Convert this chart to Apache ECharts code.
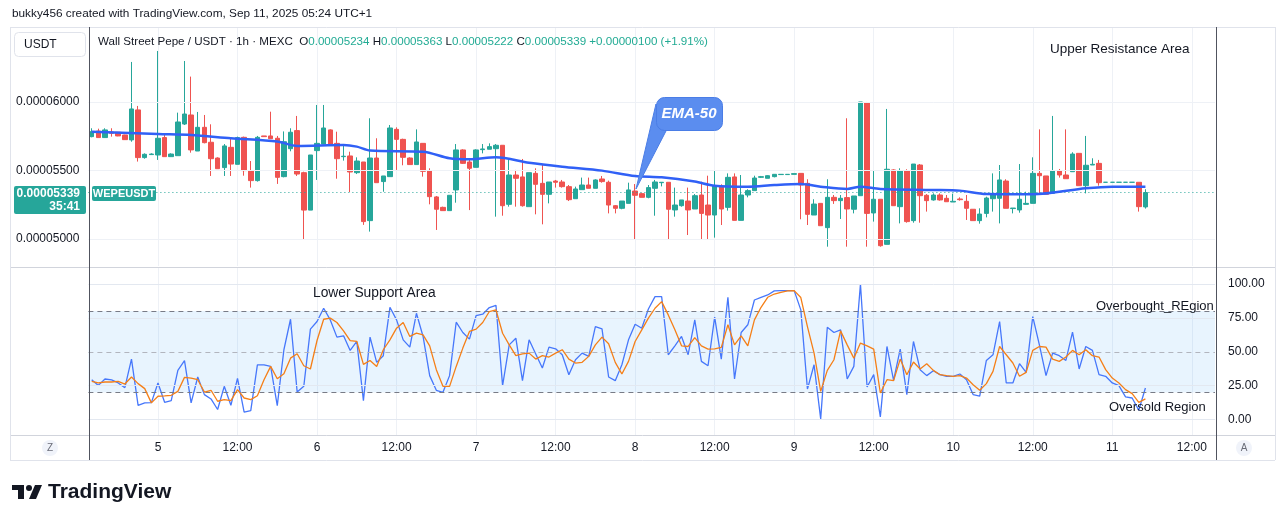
<!DOCTYPE html>
<html>
<head>
<meta charset="utf-8">
<script src="https://cdn.jsdelivr.net/npm/echarts@6/dist/echarts.min.js"></script>
<style>
html, body { margin: 0; padding: 0; background: #fff; }
#main { width: 1281px; height: 522px; }
</style>
</head>
<body>
<div id="main"></div>
<script>
// 1h candles, Sep 4 14:00 -> Sep 11 05:00. prices in 1e-8 USDT
var opens = [5747,5788,5740,5781,5779,5759,5723,5942,5594,5616,5613,5740,5601,5608,5839,5905,5642,5815,5706,5591,
  5521,5669,5545,5742,5496,5426,5752,5752,5735,5455,5659,5791,5484,5211,5645,5693,5796,5698,5601,5606,
  5484,5562,5134,5591,5419,5455,5800,5727,5591,5543,5698,5496,5307,5231,5207,5358,5650,5562,5523,5652,
  5655,5659,5684,5253,5467,5453,5236,5479,5406,5326,5423,5416,5382,5294,5360,5394,5370,5438,5414,5243,
  5224,5260,5350,5331,5304,5370,5411,5414,5212,5243,5277,5219,5321,5248,5175,5387,5231,5453,5136,5321,
  5353,5450,5443,5455,5470,5470,5472,5479,5406,5175,5260,5083,5304,5280,5302,5217,5316,5995,5190,5290,
  4961,5504,5236,5496,5134,5540,5319,5285,5321,5297,5270,5292,5275,5217,5134,5187,5294,5297,5423,5222,
  5212,5253,5260,5479,5460,5333,5496,5467,5491,5625,5389,5540,5552,5414,5414,5414,5414,5414,5414,5234];
var highs = [5808,5805,5808,5808,5781,5761,6292,5971,5625,5625,6372,5759,5625,5922,6299,6185,5927,5905,5837,5596,
  5693,5730,5747,5747,5569,5752,5752,5929,5752,5785,5808,5898,5491,5613,5978,5978,5800,5783,5679,5637,
  5596,5562,5881,5735,5460,5832,5815,5732,5596,5800,5698,5516,5314,5236,5319,5693,5655,5589,5655,5693,
  5698,5693,5684,5584,5504,5584,5484,5516,5540,5416,5431,5431,5394,5382,5448,5448,5436,5460,5426,5248,
  5277,5411,5401,5338,5394,5431,5414,5414,5375,5285,5375,5328,5418,5462,5496,5399,5479,5479,5467,5363,
  5462,5460,5465,5474,5472,5472,5477,5479,5436,5290,5260,5436,5321,5321,5881,5314,6000,6000,5496,5290,
  5949,5509,5516,5509,5547,5547,5328,5333,5333,5321,5331,5304,5321,5217,5224,5309,5479,5540,5436,5226,
  5547,5345,5596,5800,5460,5898,5511,5800,5633,5625,5752,5589,5577,5414,5414,5414,5414,5414,5414,5363];
var lows = [5742,5740,5738,5747,5750,5725,5710,5565,5586,5613,5577,5599,5599,5608,5832,5630,5642,5698,5460,5513,
  5460,5460,5545,5462,5375,5419,5747,5732,5402,5450,5640,5460,5000,5211,5431,5693,5691,5440,5572,5343,
  5474,5103,5054,5411,5345,5455,5504,5538,5543,5543,5455,5253,5066,5207,5207,5265,5548,5211,5523,5625,
  5655,5163,5170,5236,5236,5236,5236,5180,5107,5260,5375,5375,5277,5294,5360,5370,5370,5411,5187,5187,
  5217,5260,5000,5304,5297,5170,5384,5000,5163,5236,5029,5219,5000,5000,5010,5102,5207,5136,5136,5304,
  5353,5445,5443,5450,5470,5470,5472,5144,5102,5175,5097,4944,5256,5146,4944,5187,5316,4944,5127,4944,
  4961,5243,5114,5119,5119,5119,5200,5280,5280,5272,5270,5280,5139,5134,5112,5158,5200,5114,5224,5187,
  5192,5250,5260,5333,5326,5333,5448,5440,5491,5389,5333,5540,5389,5414,5414,5414,5414,5414,5200,5222];
var closes = [5783,5740,5796,5771,5752,5725,5949,5594,5618,5620,5735,5601,5620,5854,5912,5650,5815,5703,5586,5513,
  5679,5547,5740,5499,5426,5742,5747,5732,5450,5710,5779,5474,5211,5613,5698,5810,5691,5586,5604,5489,
  5569,5127,5591,5411,5460,5810,5727,5596,5543,5708,5494,5309,5217,5207,5319,5650,5552,5516,5650,5657,
  5674,5684,5243,5467,5443,5243,5484,5399,5326,5416,5414,5382,5287,5365,5394,5370,5431,5419,5248,5224,
  5277,5358,5319,5304,5375,5416,5414,5217,5248,5285,5212,5316,5187,5175,5387,5219,5450,5136,5321,5353,
  5445,5455,5462,5472,5472,5472,5477,5394,5180,5255,5097,5304,5280,5297,5219,5314,6000,5187,5290,4951,
  5509,5243,5496,5127,5547,5316,5280,5321,5285,5272,5275,5287,5224,5134,5182,5299,5328,5431,5224,5226,
  5290,5260,5479,5462,5326,5496,5467,5440,5620,5389,5538,5545,5411,5414,5414,5414,5414,5414,5236,5339];

// EMA-50 read at sampled candles
var emaIdx = [0,10,15,21,28,31,38,40,42,50,54,57,61,66,71,77,82,86,91,94,99,103,107,110,114,116,119,127,131,135,142,150,154,159];
var emaVal = [5783,5766,5759,5735,5711,5679,5686,5674,5645,5637,5589,5582,5596,5557,5528,5499,5460,5450,5419,5389,5382,5394,5401,5382,5365,5382,5365,5358,5353,5328,5326,5370,5382,5382];

// oscillator pane (blue line and its orange average)
var oscFast = [29.4,25.2,29.9,29.2,27.0,23.5,44.6,10.5,12.3,12.5,27.0,12.7,14.0,36.3,43.4,12.3,31.4,18.4,15.2,7.4,
  24.5,10.5,30.4,5.4,6.6,40.4,40.4,39.2,10.3,51.5,74.0,20.3,24.5,66.7,72.3,82.1,73.5,60.8,61.8,51.0,
  57.6,14.0,60.8,42.2,47.1,82.8,73.5,58.8,53.4,78.4,61.3,32.4,21.6,20.1,32.4,71.8,64.2,59.3,76.7,77.7,
  82.6,84.3,25.0,55.1,60.0,28.7,58.8,48.3,38.0,53.4,52.2,47.8,33.1,44.1,49.0,46.6,68.6,66.9,31.4,28.7,
  40.4,58.8,70.3,67.4,81.6,90.7,90.7,47.8,54.4,61.3,47.8,73.5,42.9,39.7,75.5,44.6,90.2,29.9,64.2,69.9,
  88.2,90.2,91.9,94.9,95.1,95.1,95.1,80.9,22.5,40.4,0.5,68.1,64.2,66.2,29.9,39.2,100,24.0,33.1,2.0,
  53.9,28.9,52.0,18.4,57.6,36.8,32.4,36.0,33.1,31.9,31.9,33.6,29.4,18.4,17.2,43.6,47.8,72.3,27.0,27.0,
  41.2,34.8,76.0,55.1,32.4,49.0,47.1,43.6,64.5,37.3,53.9,51.0,33.1,31.9,27.0,25.0,16.7,15.9,6.9,23.3];
var oscSlow = [28.2,27.0,27.7,27.7,28.2,26.2,31.4,26.5,22.8,12.3,17.2,17.4,17.9,20.8,31.1,30.6,29.4,20.3,21.6,13.5,
  14.7,14.0,22.1,15.9,14.7,17.6,29.4,39.2,30.1,33.8,45.3,48.5,39.7,37.3,58.3,74.0,74.8,71.6,65.4,58.3,
  57.6,40.7,43.6,39.2,51.5,58.8,67.4,71.6,61.3,63.7,62.5,54.4,36.8,24.5,24.5,39.2,52.7,65.0,66.7,71.6,
  79.7,80.9,63.7,55.1,47.1,48.5,49.0,44.6,47.1,46.1,49.0,51.5,44.6,41.7,42.2,46.6,55.1,60.8,55.9,42.2,
  33.6,42.9,57.6,66.2,74.8,82.1,87.0,77.2,66.2,54.4,53.9,60.5,54.4,52.0,52.2,53.2,69.9,55.1,61.8,54.4,
  73.5,82.8,90.2,92.6,93.9,94.9,95.1,90.0,68.6,49.0,20.8,36.3,44.1,65.4,55.1,45.3,56.4,54.4,52.0,19.6,
  29.4,28.7,44.6,33.1,42.4,37.3,41.2,36.3,33.1,32.4,31.9,32.4,30.6,25.7,21.6,26.5,35.5,53.9,47.8,41.7,
  31.9,34.8,51.0,53.9,53.4,44.6,42.9,46.1,51.0,47.8,51.5,47.1,46.1,36.8,30.6,27.0,22.1,19.1,12.7,15.2];

var priceTicks = [5000, 5500, 6000];
var oscTicks = [0, 25, 50, 75, 100];
var oscBands = [20, 50, 80];

// hourly categories, axis runs a bit past the last candle
var categories = [];
var t0 = Date.UTC(2025, 8, 4, 14);
for (var i = 0; i < 170; i++) {
  var d = new Date(t0 + i * 3600000);
  var dd = ('0' + d.getUTCDate()).slice(-2);
  var hh = ('0' + d.getUTCHours()).slice(-2);
  categories.push('2025-09-' + dd + ' ' + hh + ':00');
}
function isTick(idx) {
  var h = categories[idx].slice(11, 13);
  return h === '00' || h === '12';
}
function tickText(value) {
  var h = value.slice(11, 13);
  return h === '00' ? String(parseInt(value.slice(8, 10), 10)) : '12:00';
}

var FONT = '"Liberation Sans", Arial, sans-serif';
var TEAL = '#26a69a';
var RED = '#ef5350';
var GRID = '#eef1f6';

var chartDom = document.getElementById('main');
var myChart = echarts.init(chartDom);

var candleData = opens.map(function (o, i) { return [o, closes[i], lows[i], highs[i]]; });
var emaData = emaIdx.map(function (x, k) { return [x, emaVal[k]]; });

var option = {
  animation: false,
  textStyle: { fontFamily: FONT },
  grid: [
    { left: 88.4, right: 66, top: 27, height: 239 },
    { left: 88.4, right: 66, top: 268, height: 167 }
  ],
  xAxis: [
    {
      type: 'category', gridIndex: 0, data: categories, boundaryGap: true,
      axisLine: { show: false }, axisTick: { show: false }, axisLabel: { show: false },
      splitLine: { show: true, alignWithLabel: true, interval: isTick, lineStyle: { color: GRID } }
    },
    {
      type: 'category', gridIndex: 1, data: categories, boundaryGap: true,
      axisLine: { show: false }, axisTick: { show: false },
      axisLabel: { interval: isTick, formatter: tickText, color: '#131722', fontSize: 12, margin: 7 },
      splitLine: { show: true, alignWithLabel: true, interval: isTick, lineStyle: { color: GRID } }
    }
  ],
  yAxis: [
    {
      type: 'value', gridIndex: 0, position: 'left', min: 4803, max: 6547,
      splitLine: { show: false }, axisLine: { show: false }, axisTick: { show: false },
      axisLabel: {
        customValues: priceTicks, color: '#131722', fontSize: 12, margin: 9,
        formatter: function (v) { return (v / 1e8).toFixed(8); }
      }
    },
    {
      type: 'value', gridIndex: 1, position: 'right', min: -11.4, max: 111.8,
      splitLine: { show: false }, axisLine: { show: false }, axisTick: { show: false },
      axisLabel: {
        customValues: oscTicks, color: '#131722', fontSize: 12, margin: 13,
        formatter: function (v) { return v.toFixed(2); }
      }
    }
  ],
  series: [
    {
      // price grid lines
      type: 'line', xAxisIndex: 0, yAxisIndex: 0, data: [], silent: true, z: 0,
      markLine: {
        silent: true, symbol: 'none', label: { show: false }, animation: false,
        lineStyle: { color: GRID, type: 'solid', width: 1 },
        data: priceTicks.map(function (v) { return { yAxis: v }; })
      }
    },
    {
      type: 'candlestick', xAxisIndex: 0, yAxisIndex: 0, data: candleData, barWidth: 5,
      itemStyle: { color: TEAL, color0: RED, borderColor: TEAL, borderColor0: RED, borderWidth: 1 },
      markLine: {
        silent: true, symbol: 'none', label: { show: false }, animation: false,
        lineStyle: { color: TEAL, type: [1, 3], width: 1 },
        data: [{ yAxis: closes[closes.length - 1] }]
      }
    },
    {
      name: 'EMA-50', type: 'line', xAxisIndex: 0, yAxisIndex: 0, data: emaData,
      smooth: 0.3, showSymbol: false, z: 5,
      lineStyle: { color: '#3060f6', width: 2.5 }
    },
    {
      // oscillator background: band and level lines
      type: 'line', xAxisIndex: 1, yAxisIndex: 1, data: [], silent: true, z: 0,
      markArea: {
        silent: true, itemStyle: { color: 'rgba(33,150,243,0.1)' },
        data: [[{ yAxis: oscBands[0] }, { yAxis: oscBands[2] }]]
      },
      markLine: {
        silent: true, symbol: 'none', label: { show: false }, animation: false,
        data: oscTicks.map(function (v) {
          return { yAxis: v, lineStyle: { color: v === 50 ? '#b2b5be' : '#e3e8f0', type: v === 50 ? [5, 4] : 'solid', width: 1 } };
        }).concat([
          { yAxis: oscBands[0], lineStyle: { color: '#787b86', type: [5, 4], width: 1 } },
          { yAxis: oscBands[2], lineStyle: { color: '#787b86', type: [5, 4], width: 1 } }
        ])
      }
    },
    {
      type: 'line', xAxisIndex: 1, yAxisIndex: 1, data: oscFast, showSymbol: false, z: 4,
      lineStyle: { color: '#4677fb', width: 1.3 }
    },
    {
      type: 'line', xAxisIndex: 1, yAxisIndex: 1, data: oscSlow, showSymbol: false, z: 5,
      lineStyle: { color: '#f57f17', width: 1.3 }
    }
  ]
};

myChart.setOption(option);

var yLast = Math.round(myChart.convertToPixel({ yAxisIndex: 0 }, closes[closes.length - 1]));

function hline(x1, x2, y, color) {
  return { type: 'line', silent: true, z: 50, shape: { x1: x1, y1: y + 0.5, x2: x2, y2: y + 0.5 }, style: { stroke: color, lineWidth: 1 } };
}
function vline(x, y1, y2, color) {
  return { type: 'line', silent: true, z: 50, shape: { x1: x + 0.5, y1: y1, x2: x + 0.5, y2: y2 }, style: { stroke: color, lineWidth: 1 } };
}
function label(x, y, text, size, color, extra) {
  var st = { x: x, y: y, text: text, fill: color, fontSize: size, fontFamily: FONT, verticalAlign: 'middle' };
  for (var k in extra) st[k] = extra[k];
  return { type: 'text', silent: true, z: 60, style: st };
}

var graphics = [
  label(12, 14, 'bukky456 created with TradingView.com, Sep 11, 2025 05:24 UTC+1', 11.8, '#131722'),
  // frame
  hline(10, 1275, 27, '#e0e3eb'),
  hline(10, 1275, 267, '#d1d4dc'),
  hline(10, 1275, 435, '#d1d4dc'),
  hline(10, 1275, 460, '#e0e3eb'),
  vline(10, 27, 460, '#e0e3eb'),
  vline(1275, 27, 460, '#e0e3eb'),
  vline(89, 27, 460, '#50535e'),
  vline(1216, 27, 460, '#50535e'),
  // currency box
  { type: 'rect', z: 55, shape: { x: 14.5, y: 32.5, width: 71, height: 24, r: 4 }, style: { fill: '#fff', stroke: '#e0e3eb' } },
  label(24, 44.5, 'USDT', 12, '#131722'),
  // legend
  {
    type: 'text', z: 60, silent: true,
    style: {
      x: 98, y: 42, verticalAlign: 'middle', fontFamily: FONT, fontSize: 11.6, fill: '#131722',
      text: '{d|Wall Street Pepe / USDT · 1h · MEXC}  {d|O}{v|0.00005234} {d|H}{v|0.00005363} {d|L}{v|0.00005222} {d|C}{v|0.00005339} {v|+0.00000100 (+1.91%)}',
      rich: {
        d: { fill: '#131722', fontSize: 11.6, fontFamily: FONT },
        v: { fill: '#22ab94', fontSize: 11.6, fontFamily: FONT }
      }
    }
  },
  // last price labels
  { type: 'rect', z: 55, shape: { x: 14, y: yLast - 7, width: 72, height: 28, r: 2 }, style: { fill: '#26a69a' } },
  label(80, yLast + 0.5, '0.00005339', 12, '#fff', { align: 'right', fontWeight: 'bold' }),
  label(80, yLast + 14, '35:41', 12, '#fff', { align: 'right', fontWeight: 'bold' }),
  { type: 'rect', z: 55, shape: { x: 92, y: yLast - 7, width: 64, height: 15, r: 2 }, style: { fill: '#26a69a' } },
  label(124, yLast + 0.5, 'WEPEUSDT', 11, '#fff', { align: 'center', fontWeight: 'bold' }),
  // EMA callout
  { type: 'polygon', z: 58, shape: { points: [[656, 104], [666, 131], [636, 189]] }, style: { fill: '#5b8def', stroke: '#4a7de6' } },
  { type: 'rect', z: 58, shape: { x: 656.5, y: 97.5, width: 66, height: 33, r: 8 }, style: { fill: '#5b8def', stroke: '#4a7de6' } },
  label(689, 114, 'EMA-50', 15, '#fff', { align: 'center', fontWeight: 'bold', fontStyle: 'italic' }),
  // annotations
  label(1050, 49, 'Upper Resistance Area', 13.5, '#131722'),
  label(313, 293, 'Lower Support Area', 13.8, '#131722'),
  label(1096, 306, 'Overbought_REgion', 13, '#131722'),
  label(1109, 407, 'Oversold Region', 13, '#131722'),
  // scale buttons
  { type: 'circle', z: 55, shape: { cx: 50, cy: 448, r: 8 }, style: { fill: '#f0f3fa' } },
  label(50, 448.5, 'Z', 10, '#6a6d78', { align: 'center' }),
  { type: 'circle', z: 55, shape: { cx: 1244, cy: 448, r: 8 }, style: { fill: '#f0f3fa' } },
  label(1244, 448.5, 'A', 10, '#6a6d78', { align: 'center' }),
  // logo
  { type: 'rect', z: 55, shape: { x: 12, y: 485, width: 12, height: 5 }, style: { fill: '#131722' } },
  { type: 'rect', z: 55, shape: { x: 18, y: 485, width: 6, height: 14 }, style: { fill: '#131722' } },
  { type: 'circle', z: 55, shape: { cx: 29, cy: 488, r: 3 }, style: { fill: '#131722' } },
  { type: 'polygon', z: 55, shape: { points: [[35, 485], [42, 485], [36, 499], [29, 499]] }, style: { fill: '#131722' } },
  label(48, 492, 'TradingView', 21, '#131722', { fontWeight: 'bold' })
];

myChart.setOption({ graphic: graphics });
</script>
</body>
</html>
